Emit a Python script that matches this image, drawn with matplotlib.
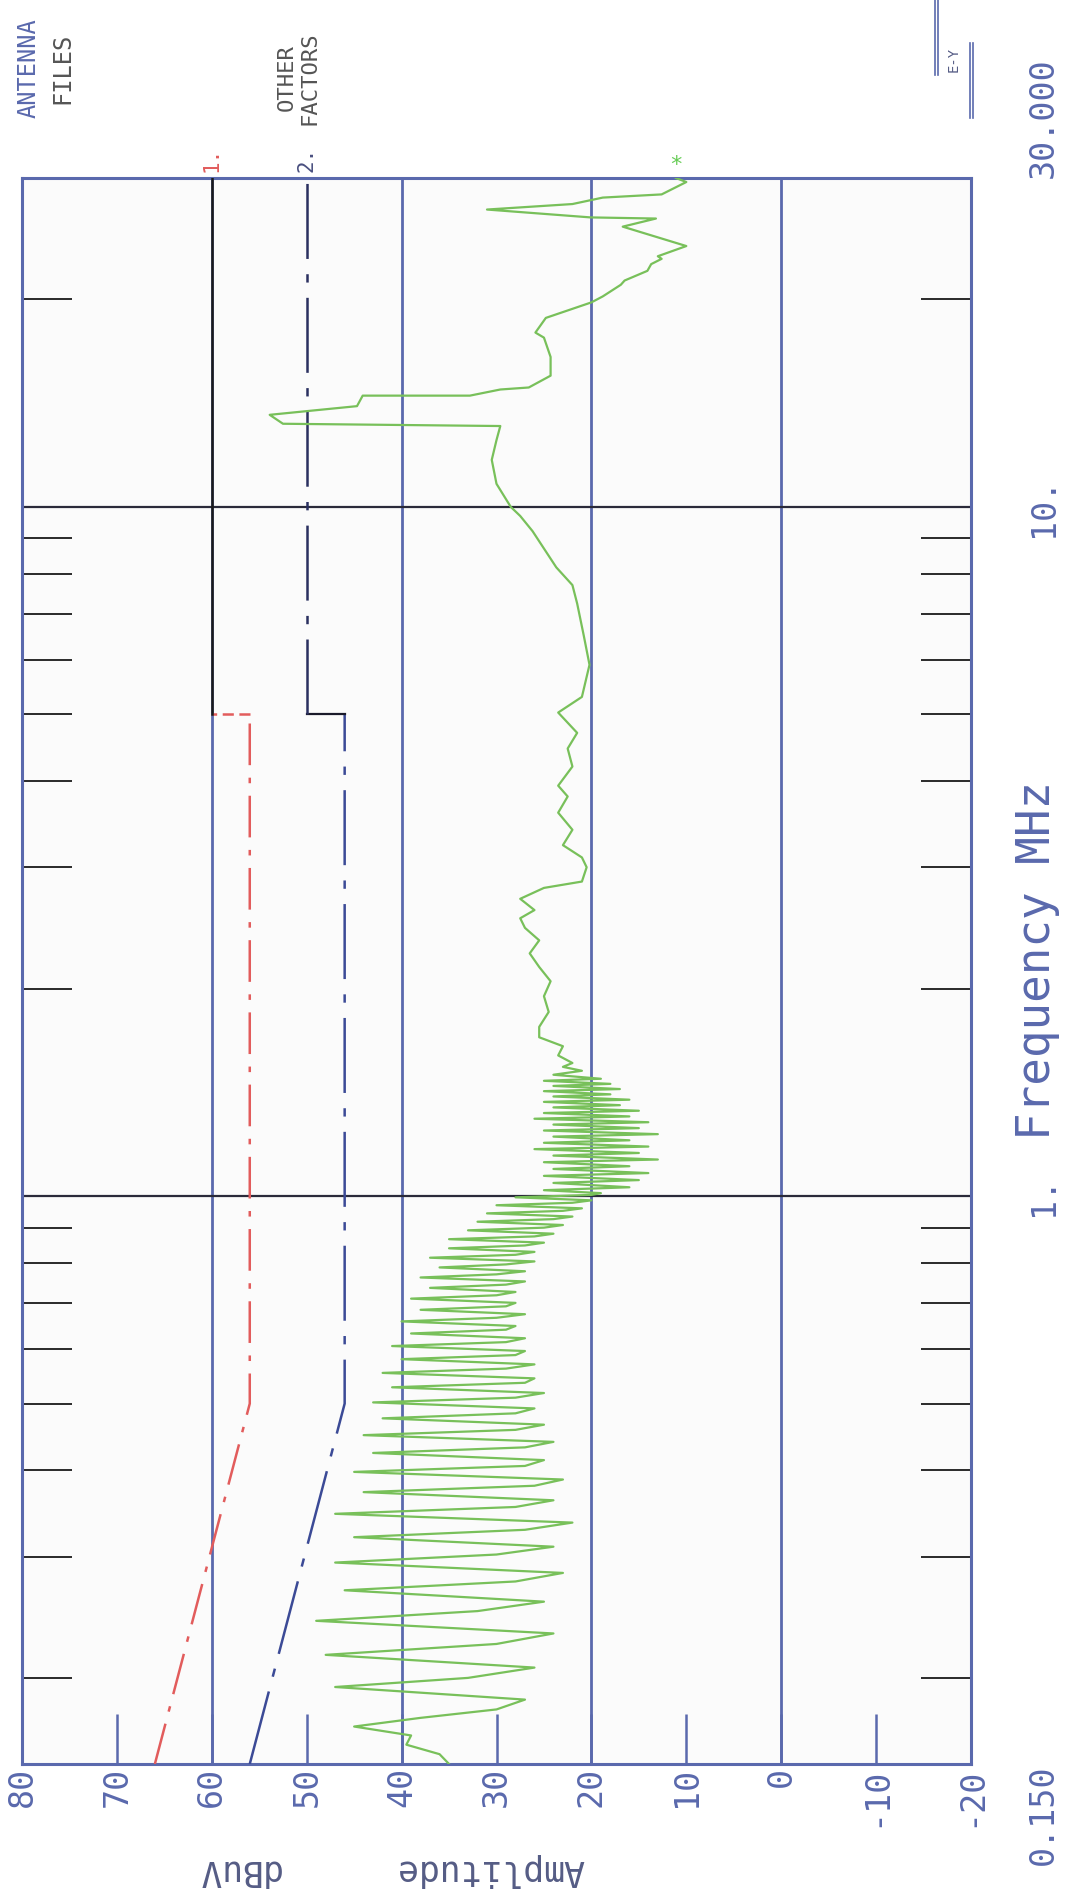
import matplotlib
matplotlib.use("Agg")
import matplotlib.pyplot as plt
from matplotlib.lines import Line2D
from matplotlib.ticker import NullFormatter

plt.rcParams['font.family'] = ['DejaVu Sans Mono']
plt.rcParams['lines.scale_dashes'] = False

# ---------------- axes ----------------
amp_ticks = [80, 70, 60, 50, 40, 30, 20, 10, 0, -10, -20]
amp_labels = ['80', '70', '60', '50', '40', '30', '20', '10', '0', '-10', '-20']
amp_grid = [60, 40, 20, 0]
freq_ticks = [0.15, 1, 10, 30]
freq_labels = ['0.150', '1.', '10.', '30.000']
freq_grid = [1, 10]
freq_minor = [0.2, 0.3, 0.4, 0.5, 0.6, 0.7, 0.8, 0.9, 2, 3, 4, 5, 6, 7, 8, 9, 20]

# ---------------- limit lines (dBuV) ----------------
lim1_lo_f = [0.15, 0.5, 5.0]
lim1_lo_a = [66, 56, 56]
lim1_step_f = [5.0, 5.0]
lim1_step_a = [56, 60]
lim1_hi_f = [5.0, 30.0]
lim1_hi_a = [60, 60]
lim2_lo_f = [0.15, 0.5, 5.0]
lim2_lo_a = [56, 46, 46]
lim2_step_f = [5.0, 5.0]
lim2_step_a = [46, 50]
lim2_hi_f = [5.0, 30.0]
lim2_hi_a = [50, 50]

# ---------------- measured trace ----------------
trace_lo_f = [0.150, 0.155, 0.160, 0.165, 0.170, 0.175, 0.180, 0.186, 0.194, 0.200,
              0.207, 0.216, 0.224, 0.232, 0.242, 0.250, 0.258, 0.268, 0.276, 0.284,
              0.294, 0.302, 0.310, 0.320, 0.328, 0.336, 0.346, 0.354, 0.362, 0.372,
              0.380, 0.388, 0.398, 0.406, 0.414, 0.424, 0.432, 0.440, 0.450, 0.458,
              0.466, 0.476, 0.484, 0.492, 0.502, 0.510, 0.518, 0.528, 0.536, 0.544,
              0.554, 0.562, 0.570, 0.580, 0.588, 0.596, 0.606, 0.614, 0.622, 0.632,
              0.640, 0.648, 0.658, 0.666, 0.674, 0.684, 0.692, 0.700, 0.710, 0.718,
              0.726, 0.736, 0.744, 0.752, 0.762, 0.770, 0.778, 0.788, 0.796, 0.804,
              0.814, 0.822, 0.830, 0.840, 0.848, 0.856, 0.866, 0.874, 0.882, 0.892,
              0.900, 0.908, 0.918, 0.926, 0.934, 0.944, 0.952, 0.960, 0.970, 0.978,
              0.986, 0.996]
trace_lo_a = [35, 36, 39.5, 39, 45, 38, 30, 27, 47, 33,
              26, 48, 30, 24, 49, 32, 25, 46, 28, 23,
              47, 30, 24, 45, 27, 22, 47, 28, 24, 44,
              26, 23, 45, 27, 25, 43, 27, 24, 44, 28,
              25, 42, 28, 26, 43, 28, 25, 41, 27, 26,
              42, 29, 26, 40, 28, 27, 41, 29, 27, 39,
              29, 28, 40, 30, 27, 38, 29, 28, 39, 30,
              28, 37, 29, 27, 38, 30, 27, 36, 29, 26,
              37, 28, 26, 35, 27, 25, 35, 26, 24, 33,
              25, 23, 32, 24, 22, 31, 23, 21, 30, 22,
              20, 28]
trace_mid_f = [1.004, 1.01, 1.02, 1.03, 1.045, 1.055, 1.07, 1.08, 1.095, 1.105,
               1.12, 1.13, 1.145, 1.155, 1.17, 1.18, 1.195, 1.205, 1.22, 1.23,
               1.245, 1.255, 1.27, 1.28, 1.295, 1.305, 1.32, 1.33, 1.345, 1.355,
               1.37, 1.38, 1.395, 1.405, 1.42, 1.43, 1.445, 1.455, 1.47, 1.48,
               1.50, 1.52, 1.54, 1.56, 1.60, 1.65, 1.70, 1.76, 1.85, 1.95,
               2.05, 2.15, 2.25, 2.35, 2.45, 2.53, 2.60, 2.70, 2.80, 2.86,
               3.0, 3.1, 3.23, 3.4, 3.6, 3.8, 3.94, 4.2, 4.46, 4.7,
               5.03, 5.3, 5.9, 6.5, 7.24, 7.7, 8.17, 8.7, 9.22, 9.7]
trace_mid_a = [20, 19, 25, 16, 24, 15, 25, 14, 24, 16,
               25, 13, 24, 15, 26, 14, 25, 16, 24, 13,
               25, 15, 24, 14, 26, 16, 25, 15, 24, 17,
               25, 16, 24, 18, 25, 17, 24, 18, 25, 19,
               24, 21, 23, 22, 23.5, 23, 25.5, 25.5, 24.5, 25,
               24.3, 25.5, 26.5, 25.5, 27, 27.5, 26, 27.5, 25, 21,
               20.5, 21, 23, 22, 23.5, 22.5, 23.5, 22, 22.5, 21.5,
               23.5, 21, 20.2, 20.8, 21.5, 22, 23.7, 25, 26.2, 27.5]
trace_hi_f = [10.0, 10.8, 11.7, 12.5, 13.1, 13.2, 13.6, 14.0, 14.5, 14.5,
              14.8, 14.9, 15.5, 16.5, 17.6, 17.9, 18.8, 19.8, 20.2, 21.0,
              21.3, 22.0, 22.5, 22.9, 23.1, 23.9, 25.5, 26.2, 26.3, 27.0,
              27.5, 28.1, 28.4, 29.6, 30.0]
trace_hi_a = [28.5, 30, 30.5, 30, 29.6, 52.5, 53.9, 44.7, 44.1, 32.8,
              29.6, 26.6, 24.3, 24.3, 25.0, 25.9, 24.8, 20.0, 18.8, 16.9,
              16.5, 14.1, 13.7, 12.6, 13.0, 10.0, 16.7, 13.2, 20.1, 31.0,
              22, 18.8, 12.6, 10.0, 11.1]

trace_f = trace_lo_f + trace_mid_f + trace_hi_f
trace_a = trace_lo_a + trace_mid_a + trace_hi_a

# ---------------- figure ----------------
W, H = 1077, 1897
BLUE = '#5a69ad'
fig = plt.figure(figsize=(W / 100, H / 100), dpi=100)
fig.patch.set_facecolor('white')
ax = fig.add_axes([22 / W, 1 - 1764 / H, 949 / W, 1586 / H])
ax.set_facecolor('#fbfbfb')

ax.set_yscale('log')
ax.set_xlim(80, -20)
ax.set_ylim(0.15, 30)

for a in amp_grid:
    ax.axvline(a, color=BLUE, lw=2, zorder=1)
for f in freq_grid:
    ax.axhline(f, color='#2a2a3a', lw=1.6, zorder=1)

# limit line 1 (red / black)
l, = ax.plot(lim1_lo_a, lim1_lo_f, color='#e25c5c', lw=1.8, zorder=3)
l.set_dashes((30, 9, 4, 9))
l, = ax.plot(lim1_step_a, lim1_step_f, color='#e25c5c', lw=1.8, zorder=3)
l.set_dashes((8, 4))
ax.plot(lim1_hi_a, lim1_hi_f, color='#1a1a1a', lw=1.8, zorder=3)
# limit line 2 (blue / dark)
l, = ax.plot(lim2_lo_a, lim2_lo_f, color='#3b4a96', lw=1.8, zorder=3)
l.set_dashes((54, 11, 6, 11))
ax.plot(lim2_step_a, lim2_step_f, color='#1a1a2a', lw=1.6, zorder=3)
l, = ax.plot(lim2_hi_a, lim2_hi_f, color='#2a3060', lw=1.8, zorder=3)
l.set_dashes((54, 11, 6, 11))

ax.plot(trace_a, trace_f, color='#78c05a', lw=1.6, zorder=4)

for s in ax.spines.values():
    s.set_color(BLUE)
    s.set_linewidth(2.2)

ax.set_xticks(amp_ticks)
ax.set_xticklabels(amp_labels)
ax.tick_params(axis='x', direction='in', length=36, width=1.8, color=BLUE,
               labelrotation=90, labelsize=24, labelcolor=BLUE, pad=2, top=False)

ax.set_yticks(freq_ticks)
ax.set_yticklabels(freq_labels)
ax.set_yticks(freq_minor, minor=True)
ax.yaxis.set_minor_formatter(NullFormatter())
ax.tick_params(axis='y', which='major', length=0, left=False, right=False,
               labelleft=False, labelright=True, labelrotation=90,
               labelsize=24, labelcolor=BLUE, pad=40)
ax.tick_params(axis='y', which='minor', direction='in', length=36, width=1.4,
               color='#2a2a2a', left=True, right=True)
ylabs = ax.get_yticklabels()
for lab in ylabs:
    lab.set_va('center')
ylabs[0].set_va('top')
ylabs[-1].set_va('bottom')

# labels on limit lines and trace end
ax.annotate('1.', xy=(lim1_hi_a[-1], lim1_hi_f[-1]), xytext=(0, 4), textcoords='offset points',
            rotation=90, ha='center', va='bottom', fontsize=15, color='#e25c5c',
            annotation_clip=False)
ax.annotate('2.', xy=(lim2_hi_a[-1], lim2_hi_f[-1]), xytext=(0, 4), textcoords='offset points',
            rotation=90, ha='center', va='bottom', fontsize=15, color='#4a5080',
            annotation_clip=False)
ax.annotate('*', xy=(trace_a[-1], trace_f[-1]), xytext=(0, 2), textcoords='offset points',
            ha='center', va='bottom', fontsize=16, color='#66cc55', annotation_clip=False)


def ftext(x, y, s, **kw):
    fig.text(x / W, 1 - y / H, s, ha='center', va='center', **kw)


ftext(1037, 960, 'Frequency MHz', rotation=90, fontsize=33, color=BLUE)
ftext(490, 1870, 'Amplitude', rotation=180, fontsize=25, color='#555c85')
ftext(238, 1870, 'dBuV', rotation=180, fontsize=25, color='#555c85')
ftext(29, 68, 'ANTENNA', rotation=90, fontsize=17, color=BLUE)
ftext(62, 68, 'FILES', rotation=90, fontsize=17, color='#555555')
ftext(287, 78, 'OTHER', rotation=90, fontsize=16, color='#555555')
ftext(309, 78, 'FACTORS', rotation=90, fontsize=16, color='#555555')
ftext(954, 59, 'E-Y', rotation=90, fontsize=10, color='#555c85')
for x0, y0, y1 in [(935, 0, 75), (938, 0, 75), (970, 43, 118), (973, 43, 118)]:
    fig.add_artist(Line2D([x0 / W, x0 / W], [1 - y0 / H, 1 - y1 / H], color=BLUE, lw=1.2))

fig.savefig('out.png', dpi=100)
